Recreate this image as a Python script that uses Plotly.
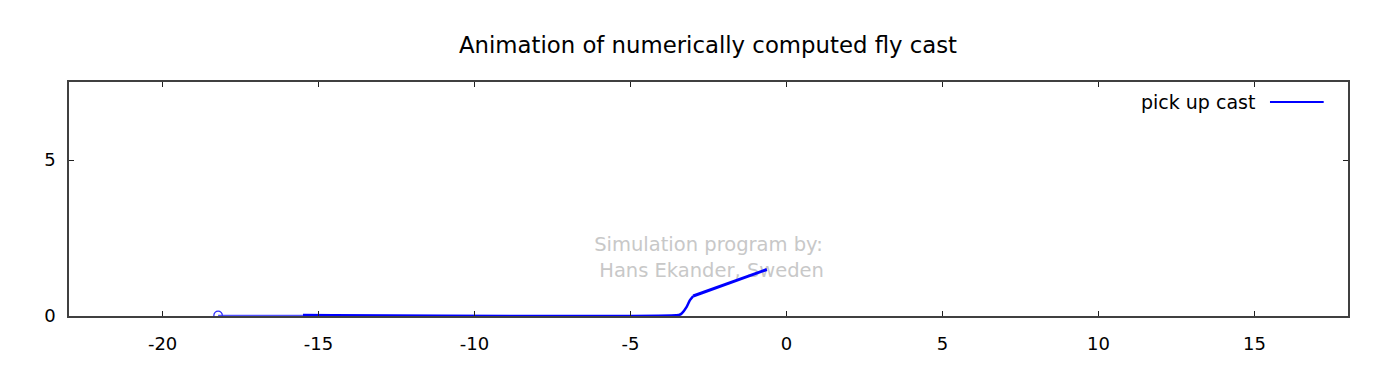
import plotly.graph_objects as go

# Data
leader_x = [-18.22, -15.5]
leader_y = [0.02, 0.02]
fly_x = [-18.22]
fly_y = [0.02]
line_x = [-15.5, -3.45, -3.36, -3.2, -3.1, -2.99]
line_y = [0.03, 0.03, 0.08, 0.29, 0.50, 0.64]
rod_x = [-2.99, -0.63]
rod_y = [0.64, 1.49]

x_ticks = [-20, -15, -10, -5, 0, 5, 10, 15]
x_tick_labels = ["-20", "-15", "-10", "-5", "0", "5", "10", "15"]
y_ticks = [0, 5]
y_tick_labels = ["0", "5"]
x_range = [-23, 18]
y_range = [0, 7.5]

title = "Animation of numerically computed fly cast"
legend_label = "pick up cast"
watermark = "Simulation program by:<br> Hans Ekander, Sweden"
watermark_x = [-2.5]
watermark_y = [1.82]

FONT = "DejaVu Sans"
BLUE = "#0000ff"

fig = go.Figure()
fig.add_trace(go.Scatter(x=watermark_x, y=watermark_y, mode="text", text=[watermark],
                         textposition="middle center",
                         textfont=dict(family=FONT, size=19.5, color="#c8c8c8"),
                         showlegend=False, hoverinfo="skip"))
fig.add_trace(go.Scatter(x=leader_x, y=leader_y, mode="lines",
                         line=dict(color="#5050ff", width=1.5), showlegend=False))
fig.add_trace(go.Scatter(x=line_x, y=line_y, mode="lines",
                         line=dict(color=BLUE, width=2.5, shape="spline", smoothing=0.4),
                         showlegend=False))
fig.add_trace(go.Scatter(x=rod_x, y=rod_y, mode="lines",
                         line=dict(color=BLUE, width=3), showlegend=False))
fig.add_trace(go.Scatter(x=fly_x, y=fly_y, mode="markers",
                         marker=dict(symbol="circle-open", size=8.5, color="#3030ff",
                                     line=dict(width=1.3)), showlegend=False))

# legend (gnuplot-style: text then sample line)
fig.add_annotation(x=0.929, y=0.915, xref="paper", yref="paper", text=legend_label,
                   showarrow=False, xanchor="right", yanchor="middle",
                   font=dict(family=FONT, size=19, color="black"))
fig.add_shape(type="line", xref="paper", yref="paper", x0=0.939, x1=0.981,
              y0=0.915, y1=0.915, line=dict(color=BLUE, width=2))

axis_common = dict(showgrid=False, zeroline=False, showline=True, mirror="ticks",
                   linecolor="#404040", linewidth=1.5, ticks="inside", ticklen=5,
                   tickcolor="#202020", tickwidth=1,
                   tickfont=dict(family=FONT, size=18, color="black"))

fig.update_layout(
    width=1400, height=373,
    margin=dict(l=61, r=60, t=74, b=65),
    paper_bgcolor="white", plot_bgcolor="white",
    title=dict(text=title, x=0.5, xanchor="center", y=0.901, yanchor="middle",
               font=dict(family=FONT, size=22.8, color="black")),
    xaxis=dict(range=x_range, tickvals=x_ticks, ticktext=x_tick_labels,
               ticklabelstandoff=11, **axis_common),
    yaxis=dict(range=y_range, tickvals=y_ticks, ticktext=y_tick_labels,
               ticklabelstandoff=8, **axis_common),
    showlegend=False,
)

fig.write_html("out.html")
